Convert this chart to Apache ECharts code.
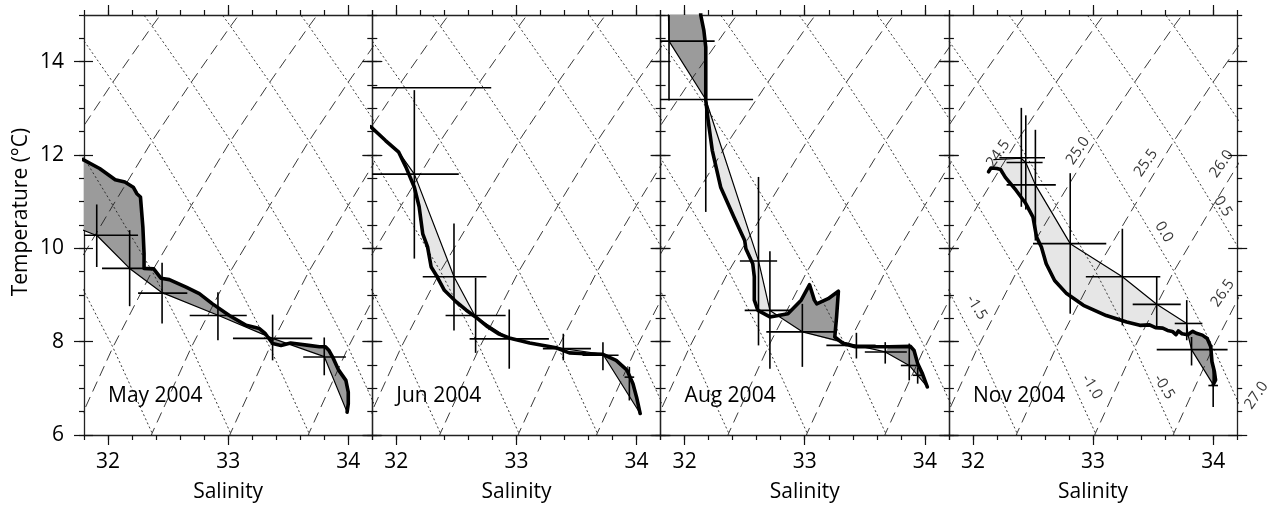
<!DOCTYPE html>
<html>
<head>
<meta charset="utf-8">
<title>T-S diagrams 2004</title>
<script src="https://cdn.jsdelivr.net/npm/echarts@6/dist/echarts.min.js"></script>
<style>
  html, body { margin: 0; padding: 0; background: #fff; }
  #main { width: 1267px; height: 508px; }
</style>
</head>
<body>
<div id="main"></div>
<script>
// axis ticks
var salTicks = [32, 33, 34];
var salMinorTicks = [31.8, 32, 32.2, 32.4, 32.6, 32.8, 33, 33.2, 33.4, 33.6, 33.8, 34, 34.2];
var tempTicks = [6, 8, 10, 12, 14];
var tempMinorTicks = [6, 6.5, 7, 7.5, 8, 8.5, 9, 9.5, 10, 10.5, 11, 11.5, 12, 12.5, 13, 13.5, 14, 14.5, 15];

// isopycnal / spiciness lattice (crossing rows and S at the 6.04 row)
var gridRowT = [3.9, 6.04, 7.88, 9.51, 10.92, 12.30, 13.56, 14.76, 15.9];
var halfStep = 0.3265;
var sigmaBaseS = [29.755, 30.408, 31.061, 31.714, 32.367, 33.02, 33.673, 34.326];
var spiceBaseS = [32.367, 33.02, 33.673, 34.326, 34.979, 35.632, 36.285];

// contour labels (Nov panel)
var sigmaLabels = ['24.5', '25.0', '25.5', '26.0', '26.5', '27.0'];
var sigmaLabelPos = [[32.21, 12.03], [32.875, 12.09], [33.44, 11.83], [34.07, 11.81], [34.08, 9.04], [34.36, 6.85]];
var spiceLabels = ['-1.5', '-1.0', '-0.5', '0.0', '0.5'];
var spiceLabelPos = [[32.03, 8.73], [32.99, 7.03], [33.59, 7.03], [33.59, 10.35], [34.08, 10.9]];

var panelTitles = ['May 2004', 'Jun 2004', 'Aug 2004', 'Nov 2004'];

// May 2004
var mayProfile = [[31.70, 11.98], [31.80, 11.89], [31.93, 11.71], [32.06, 11.47], [32.14, 11.42], [32.21, 11.31], [32.24, 11.17], [32.27, 11.10], [32.29, 10.46], [32.30, 9.89], [32.30, 9.57], [32.38, 9.56], [32.44, 9.36], [32.51, 9.33], [32.65, 9.17], [32.76, 9.03], [32.87, 8.81], [33.01, 8.56], [33.15, 8.35], [33.26, 8.28], [33.31, 8.17], [33.37, 7.96], [33.44, 7.92], [33.52, 7.97], [33.67, 7.92], [33.76, 7.89], [33.81, 7.89], [33.84, 7.81], [33.87, 7.67], [33.92, 7.39], [33.98, 7.17], [34.00, 6.92], [34.00, 6.67], [33.99, 6.49]];
var mayMean = [[31.70, 10.48], [31.91, 10.27], [32.18, 9.57], [32.45, 9.05], [32.92, 8.56], [33.37, 8.07], [33.80, 7.68], [33.99, 6.49]];
var mayCross = [[31.906, 10.28, 31.56, 32.25, 9.60, 10.94], [32.18, 9.57, 31.95, 32.39, 8.76, 10.39], [32.45, 9.04, 32.25, 32.66, 8.39, 9.69], [32.915, 8.56, 32.68, 33.155, 8.03, 9.06], [33.37, 8.07, 33.04, 33.70, 7.60, 8.58], [33.80, 7.67, 33.625, 33.98, 7.28, 8.09]];

// Jun 2004
var junProfile = [[31.70, 12.68], [31.79, 12.60], [31.91, 12.31], [32.02, 12.06], [32.08, 11.74], [32.15, 11.31], [32.19, 10.89], [32.22, 10.31], [32.26, 10.03], [32.29, 9.60], [32.34, 9.39], [32.40, 9.10], [32.50, 8.85], [32.58, 8.68], [32.66, 8.53], [32.76, 8.32], [32.85, 8.17], [32.94, 8.08], [33.11, 7.97], [33.33, 7.87], [33.44, 7.76], [33.58, 7.74], [33.72, 7.73], [33.83, 7.60], [33.92, 7.39], [33.97, 7.10], [34.00, 6.81], [34.03, 6.46]];
var junMean = [[32.02, 12.06], [32.15, 11.59], [32.48, 9.39], [32.66, 8.53], [32.94, 8.06], [33.39, 7.85], [33.72, 7.73], [34.03, 6.46]];
var junCross = [[31.72, 13.44, 30.65, 32.79, 12.2, 14.7], [32.15, 11.59, 31.78, 32.52, 9.78, 13.39], [32.48, 9.39, 32.22, 32.75, 8.24, 10.53], [32.66, 8.56, 32.41, 32.91, 7.76, 9.37], [32.94, 8.06, 32.61, 33.27, 7.42, 8.69], [33.39, 7.85, 33.22, 33.62, 7.60, 8.17], [33.72, 7.71, 33.55, 33.85, 7.39, 7.99], [33.94, 7.24, 33.90, 33.98, 6.74, 7.46]];

// Aug 2004
var augProfile = [[32.13, 15.50], [32.134, 15.0], [32.16, 14.67], [32.176, 14.31], [32.176, 13.17], [32.196, 12.74], [32.23, 12.10], [32.30, 11.31], [32.41, 10.67], [32.50, 10.17], [32.51, 9.99], [32.567, 9.67], [32.58, 9.39], [32.58, 8.89], [32.61, 8.67], [32.71, 8.53], [32.78, 8.56], [32.86, 8.60], [32.97, 8.89], [33.04, 9.22], [33.08, 8.89], [33.10, 8.81], [33.195, 8.92], [33.28, 9.08], [33.265, 8.53], [33.25, 8.10], [33.32, 7.96], [33.42, 7.89], [33.70, 7.89], [33.88, 7.90], [33.91, 7.81], [33.94, 7.53], [33.98, 7.31], [34.02, 7.03]];
var augMean = [[31.86, 15.6], [31.87, 14.44], [32.176, 13.19], [32.615, 9.73], [32.71, 8.67], [32.98, 8.21], [33.43, 7.92], [33.67, 7.78], [33.87, 7.49], [33.94, 7.28], [34.02, 7.03]];
var augCross = [[31.87, 14.44, 31.40, 32.25, 13.17, 15.7], [32.176, 13.19, 31.78, 32.57, 10.78, 14.42], [32.615, 9.73, 32.46, 32.77, 7.92, 11.53], [32.71, 8.67, 32.50, 32.89, 7.42, 9.94], [32.98, 8.21, 32.68, 33.25, 7.46, 8.81], [33.43, 7.92, 33.18, 33.59, 7.64, 8.19], [33.67, 7.78, 33.50, 33.85, 7.53, 7.99], [33.87, 7.49, 33.80, 33.95, 7.17, 7.96], [33.94, 7.28, 33.90, 33.98, 7.10, 7.45]];

// Nov 2004
var novProfile = [[32.13, 11.64], [32.15, 11.72], [32.20, 11.71], [32.23, 11.69], [32.27, 11.52], [32.36, 11.24], [32.44, 10.96], [32.50, 10.67], [32.53, 10.24], [32.57, 10.03], [32.61, 9.67], [32.68, 9.31], [32.78, 9.03], [32.92, 8.78], [33.11, 8.56], [33.28, 8.42], [33.39, 8.35], [33.47, 8.36], [33.52, 8.30], [33.58, 8.29], [33.62, 8.24], [33.66, 8.22], [33.69, 8.15], [33.71, 8.23], [33.74, 8.17], [33.79, 8.15], [33.81, 8.19], [33.83, 8.22], [33.86, 8.18], [33.91, 8.14], [33.95, 8.07], [33.98, 7.89], [33.99, 7.57], [34.01, 7.36], [34.02, 7.18], [34.00, 7.08]];
var novMean = [[32.17, 11.90], [32.40, 11.93], [32.44, 11.84], [32.52, 11.36], [32.81, 10.10], [33.244, 9.39], [33.53, 8.80], [33.78, 8.39], [33.79, 8.15], [33.82, 7.83], [34.00, 7.08]];
var novCross = [[32.403, 11.94, 32.22, 32.60, 10.89, 13.01], [32.44, 11.84, 32.28, 32.58, 10.83, 12.85], [32.52, 11.36, 32.28, 32.69, 10.17, 12.54], [32.81, 10.10, 32.50, 33.11, 8.60, 11.61], [33.244, 9.39, 32.94, 33.56, 8.35, 10.42], [33.53, 8.80, 33.33, 33.73, 8.28, 9.39], [33.78, 8.39, 33.68, 33.91, 8.03, 8.89], [33.82, 7.83, 33.53, 34.12, 7.49, 8.10], [34.00, 7.06, 33.96, 34.04, 6.60, 7.46]];

// shaded pieces: profile index range + mean index range
var mayFills = [{ p: [0, 33], m: [0, 7], dark: true }];
var junFills = [{ p: [3, 14], m: [0, 3], dark: false }, { p: [22, 27], m: [6, 7], dark: true }];
var augFills = [{ p: [0, 4], m: [0, 2], dark: true }, { p: [4, 16], m: [2, 4], dark: false }, { p: [16, 26], m: [5, 5], dark: true }, { p: [28, 33], m: [7, 10], dark: true }];
var novFills = [{ p: [0, 25], m: [0, 8], dark: false }, { p: [25, 35], m: [8, 10], dark: true }];

var FONT = '"Open Sans", "DejaVu Sans", sans-serif';
var FONT_SIZE = 21;
var GRID_LEFT = 84, GRID_W = 288.3, GRID_TOP = 15, GRID_H = 420;
var DARK = '#9b9b9b', LIGHT = '#e6e6e6';

initChart();

//build a polygon from a slice of the profile and the reversed slice of the mean line
function buildPolygon(profile, mean, fill) {
    var pts = profile.slice(fill.p[0], fill.p[1] + 1);
    var back = mean.slice(fill.m[0], fill.m[1] + 1).reverse();
    return pts.concat(back);
}

//lattice lines for one family, broken with '-' between lines
function latticeData(bases, sign) {
    var data = [];
    for (var i = 0; i < bases.length; i++) {
        for (var r = 0; r < gridRowT.length; r++) {
            data.push([bases[i] + sign * (r - 1) * halfStep, gridRowT[r]]);
        }
        data.push(['-', '-']);
    }
    return data;
}

function extend(a, b) {
    var o = {};
    for (var k in a) o[k] = a[k];
    for (var k2 in b) o[k2] = b[k2];
    return o;
}

//axes of one panel: ticks all round, majors crossing on the sides
function getAxes(p) {
    var xs = [], ys = [];
    var tickStyle = { color: '#111', width: 1.2 };
    var lineStyle = { color: '#222', width: 1.3 };
    var textStyle = { fontSize: FONT_SIZE, fontFamily: FONT, color: '#000' };
    var baseX = { type: 'value', gridIndex: p, min: 31.8, max: 34.2, splitLine: { show: false } };
    var baseY = { type: 'value', gridIndex: p, min: 6, max: 15, splitLine: { show: false } };
    xs.push(extend(baseX, {
        position: 'bottom',
        axisLine: { show: true, onZero: false, lineStyle: lineStyle },
        axisTick: { show: true, customValues: salTicks, length: 10, lineStyle: tickStyle },
        axisLabel: extend(textStyle, { show: true, customValues: salTicks, margin: 17 }),
        name: 'Salinity', nameLocation: 'middle', nameGap: 47,
        nameTextStyle: textStyle
    }));
    xs.push(extend(baseX, {
        position: 'bottom',
        axisLine: { show: false, onZero: false },
        axisTick: { show: true, customValues: salMinorTicks, length: 5, lineStyle: tickStyle },
        axisLabel: { show: false }
    }));
    xs.push(extend(baseX, {
        position: 'top',
        axisLine: { show: true, onZero: false, lineStyle: lineStyle },
        axisTick: { show: true, customValues: salTicks, length: 10, lineStyle: tickStyle },
        axisLabel: { show: false }
    }));
    xs.push(extend(baseX, {
        position: 'top',
        axisLine: { show: false, onZero: false },
        axisTick: { show: true, customValues: salMinorTicks, length: 5, lineStyle: tickStyle },
        axisLabel: { show: false }
    }));
    var sides = ['left', 'right'];
    for (var s = 0; s < 2; s++) {
        var first = (p == 0 && s == 0);
        ys.push(extend(baseY, {
            position: sides[s],
            axisLine: { show: true, onZero: false, lineStyle: lineStyle },
            axisTick: { show: true, customValues: tempTicks, length: 10, lineStyle: tickStyle },
            axisLabel: extend(textStyle, { show: first, customValues: tempTicks, margin: 20 }),
            name: first ? 'Temperature (°C)' : '',
            nameLocation: 'middle', nameGap: 52, nameRotate: 90,
            nameTextStyle: extend(textStyle, { padding: [0, 0, 0, 26] })
        }));
        ys.push(extend(baseY, {
            position: sides[s],
            axisLine: { show: false, onZero: false },
            axisTick: { show: true, inside: true, customValues: tempTicks, length: 9, lineStyle: tickStyle },
            axisLabel: { show: false }
        }));
        ys.push(extend(baseY, {
            position: sides[s],
            axisLine: { show: false, onZero: false },
            axisTick: { show: true, customValues: tempMinorTicks, length: 5, lineStyle: tickStyle },
            axisLabel: { show: false }
        }));
    }
    return { x: xs, y: ys };
}

function getPanelSeries(p, profile, mean, cross, fills) {
    var xi = p * 4, yi = p * 6;
    var list = [];
    //shading between profile and mean line
    for (var i = 0; i < fills.length; i++) {
        (function (poly, color) {
            list.push({
                type: 'custom', xAxisIndex: xi, yAxisIndex: yi, clip: true, silent: true, z: 1,
                data: poly, encode: { x: 0, y: 1 },
                renderItem: function (params, api) {
                    if (params.dataIndex !== 0) return;
                    var pts = poly.map(function (d) { return api.coord(d); });
                    return { type: 'polygon', shape: { points: pts }, style: { fill: color, stroke: null } };
                }
            });
        })(buildPolygon(profile, mean, fills[i]), fills[i].dark ? DARK : LIGHT);
    }
    //isopycnals (long dash) and spiciness (dotted)
    list.push({
        type: 'line', xAxisIndex: xi, yAxisIndex: yi, data: latticeData(sigmaBaseS, 1),
        showSymbol: false, symbol: 'none', silent: true, clip: true, z: 2,
        lineStyle: { color: '#222', width: 0.9, type: [11, 6] }
    });
    list.push({
        type: 'line', xAxisIndex: xi, yAxisIndex: yi, data: latticeData(spiceBaseS, -1),
        showSymbol: false, symbol: 'none', silent: true, clip: true, z: 2,
        lineStyle: { color: '#222', width: 0.9, type: [2, 2.5] }
    });
    //mean line
    list.push({
        type: 'line', xAxisIndex: xi, yAxisIndex: yi, data: mean,
        showSymbol: false, symbol: 'none', silent: true, clip: true, z: 3,
        lineStyle: { color: '#000', width: 1.2 }
    });
    //error crosses
    list.push({
        type: 'custom', xAxisIndex: xi, yAxisIndex: yi, clip: true, silent: true, z: 4,
        data: cross, encode: { x: [0, 2, 3], y: [1, 4, 5] },
        renderItem: function (params, api) {
            var l = api.coord([api.value(2), api.value(1)]);
            var r = api.coord([api.value(3), api.value(1)]);
            var b = api.coord([api.value(0), api.value(4)]);
            var t = api.coord([api.value(0), api.value(5)]);
            var st = { stroke: '#000', lineWidth: 1.6 };
            return {
                type: 'group', children: [
                    { type: 'line', shape: { x1: l[0], y1: l[1], x2: r[0], y2: r[1] }, style: st },
                    { type: 'line', shape: { x1: b[0], y1: b[1], x2: t[0], y2: t[1] }, style: st }
                ]
            };
        }
    });
    //observed profile
    list.push({
        type: 'line', xAxisIndex: xi, yAxisIndex: yi, data: profile,
        showSymbol: false, symbol: 'none', silent: true, clip: true, z: 5,
        lineStyle: { color: '#000', width: 3.6, join: 'round', cap: 'round' }
    });
    return list;
}

//contour labels, only in the last panel
function getLabelSeries(p) {
    var data = [];
    for (var i = 0; i < sigmaLabels.length; i++) {
        data.push({ value: sigmaLabelPos[i], label: { formatter: sigmaLabels[i], rotate: 55 } });
    }
    for (var j = 0; j < spiceLabels.length; j++) {
        data.push({ value: spiceLabelPos[j], label: { formatter: spiceLabels[j], rotate: -58 } });
    }
    return {
        type: 'scatter', xAxisIndex: p * 4, yAxisIndex: p * 6, symbolSize: 0, clip: false, silent: true, z: 6,
        data: data,
        label: { show: true, position: 'inside', fontSize: 15, fontFamily: FONT, color: '#000' }
    };
}

function initChart() {
    var myChart = echarts.init(document.getElementById('main'), null, { renderer: 'canvas' });
    var grids = [], xAxis = [], yAxis = [], series = [], titles = [];
    var profiles = [mayProfile, junProfile, augProfile, novProfile];
    var means = [mayMean, junMean, augMean, novMean];
    var crosses = [mayCross, junCross, augCross, novCross];
    var fills = [mayFills, junFills, augFills, novFills];
    for (var p = 0; p < 4; p++) {
        grids.push({ left: GRID_LEFT + p * GRID_W, top: GRID_TOP, width: GRID_W, height: GRID_H });
        var axes = getAxes(p);
        xAxis = xAxis.concat(axes.x);
        yAxis = yAxis.concat(axes.y);
        series = series.concat(getPanelSeries(p, profiles[p], means[p], crosses[p], fills[p]));
        titles.push({
            text: panelTitles[p], left: GRID_LEFT + p * GRID_W + 24, top: 386, padding: 0,
            textStyle: { fontSize: FONT_SIZE, fontWeight: 'normal', fontFamily: FONT, color: '#000' }
        });
    }
    series.push(getLabelSeries(3));
    myChart.setOption({
        animation: false,
        backgroundColor: '#fff',
        title: titles,
        grid: grids,
        xAxis: xAxis,
        yAxis: yAxis,
        series: series
    });
}
</script>
</body>
</html>
